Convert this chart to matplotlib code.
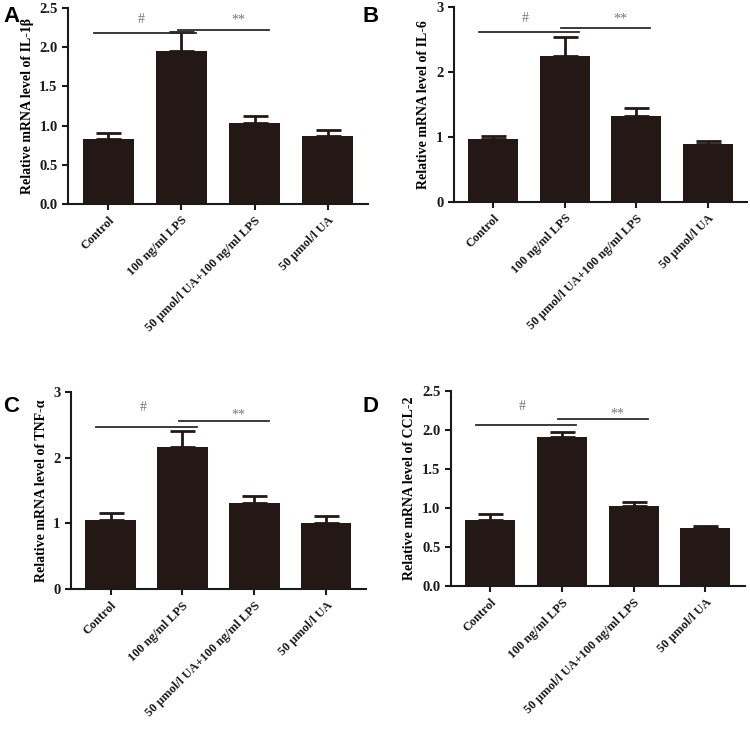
import matplotlib
matplotlib.use('Agg')
import matplotlib.pyplot as plt

plt.rcParams['font.family'] = ['Liberation Serif', 'DejaVu Serif']
plt.rcParams['font.weight'] = 'bold'
plt.rcParams['axes.labelweight'] = 'bold'

groups = ['Control', '100 ng/ml LPS', '50 μmol/l UA+100 ng/ml LPS', '50 μmol/l UA']

# mean and upper error (mean + SD) for each panel
il1b_mean = [0.83, 1.95, 1.03, 0.87]
il1b_top = [0.90, 2.20, 1.12, 0.95]
il6_mean = [0.97, 2.24, 1.32, 0.89]
il6_top = [1.02, 2.54, 1.45, 0.94]
tnf_mean = [1.05, 2.16, 1.31, 1.00]
tnf_top = [1.16, 2.41, 1.41, 1.11]
ccl2_mean = [0.85, 1.91, 1.02, 0.74]
ccl2_top = [0.92, 1.97, 1.08, 0.77]

panels = [
    dict(letter='A', gene='IL-1β', mean=il1b_mean, top=il1b_top,
         ymax=2.5, yticks=[0.0, 0.5, 1.0, 1.5, 2.0, 2.5], fmt='{:.1f}',
         hash_y=2.18, star_y=2.22, hash_txt=2.35, star_txt=2.35,
         rect=[0.0907, 0.7205, 0.400, 0.2685], lpos=(0.004, 0.992)),
    dict(letter='B', gene='IL-6', mean=il6_mean, top=il6_top,
         ymax=3, yticks=[0, 1, 2, 3], fmt='{:d}',
         hash_y=2.62, star_y=2.68, hash_txt=2.82, star_txt=2.82,
         rect=[0.605, 0.7233, 0.391, 0.267], lpos=(0.483, 0.992)),
    dict(letter='C', gene='TNF-α', mean=tnf_mean, top=tnf_top,
         ymax=3, yticks=[0, 1, 2, 3], fmt='{:d}',
         hash_y=2.47, star_y=2.56, hash_txt=2.77, star_txt=2.65,
         rect=[0.0947, 0.193, 0.393, 0.270], lpos=(0.004, 0.458)),
    dict(letter='D', gene='CCL-2', mean=ccl2_mean, top=ccl2_top,
         ymax=2.5, yticks=[0.0, 0.5, 1.0, 1.5, 2.0, 2.5], fmt='{:.1f}',
         hash_y=2.06, star_y=2.14, hash_txt=2.30, star_txt=2.20,
         rect=[0.601, 0.197, 0.392, 0.268], lpos=(0.483, 0.458)),
]

bar_color = '#231815'
x = list(range(len(groups)))

fig = plt.figure(figsize=(7.5, 7.3), dpi=100)

for p in panels:
    ax = fig.add_axes(p['rect'])
    err = [t - m for t, m in zip(p['top'], p['mean'])]
    ax.bar(x, p['mean'], width=0.70, color=bar_color, zorder=2)
    ax.errorbar(x, p['mean'], yerr=[[0] * 4, err], fmt='none', ecolor=bar_color,
                elinewidth=2, capsize=9, capthick=2, zorder=1)

    # significance lines
    ax.plot([-0.2, 1.2], [p['hash_y']] * 2, color='#2b2b2b', lw=1.3, clip_on=False)
    ax.plot([0.95, 2.2], [p['star_y']] * 2, color='#2b2b2b', lw=1.3, clip_on=False)
    ax.text(0.45, p['hash_txt'], '#', ha='center', va='center', fontsize=10,
            color='#777777', fontweight='normal')
    ax.text(1.78, p['star_txt'], '**', ha='center', va='center', fontsize=10,
            color='#777777', fontweight='normal')

    ax.set_xlim(-0.55, 3.55)
    ax.set_ylim(0, p['ymax'])
    ax.set_yticks(p['yticks'])
    ax.set_yticklabels([p['fmt'].format(v) for v in p['yticks']], fontsize=10.5)
    ax.set_xticks(x)
    ax.set_xticklabels(groups, rotation=45, ha='right', rotation_mode='anchor', fontsize=9)
    ax.set_ylabel('Relative mRNA level of ' + p['gene'], fontsize=10, fontweight='bold')
    for s in ['top', 'right']:
        ax.spines[s].set_visible(False)
    for s in ['left', 'bottom']:
        ax.spines[s].set_linewidth(1.5)
        ax.spines[s].set_color('#1a1a1a')
    ax.tick_params(axis='both', direction='out', length=4, width=1.5, colors='#1a1a1a')

    fig.text(p['lpos'][0], p['lpos'][1], p['letter'], fontsize=16, fontweight='bold',
             family=['Liberation Sans', 'DejaVu Sans'], va='top', ha='left')

fig.savefig('out.png', dpi=100)
